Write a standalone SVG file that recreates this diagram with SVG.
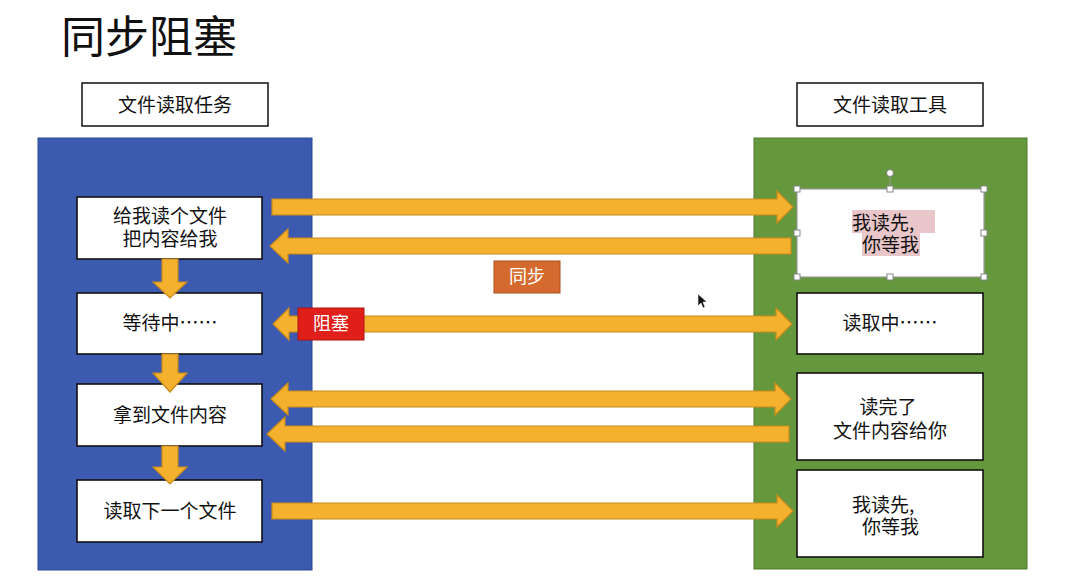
<svg xmlns="http://www.w3.org/2000/svg" width="1082" height="584" viewBox="0 0 1082 584">
<style>
text{font-family:"Noto Sans CJK SC","Liberation Sans",sans-serif;fill:#111;}
.t{font-size:19px;text-anchor:middle;}
.ts{font-size:19px;}
.node{fill:#fff;stroke:#111;stroke-width:1.6;}
.arr{fill:#f4b12e;stroke:#c88a1c;stroke-width:1.2;}
.lbl{font-size:18px;fill:#fff;text-anchor:middle;}
.hd{fill:#fff;stroke:#888;stroke-width:1;}
</style>
<rect width="1082" height="584" fill="#fff"/>
<text id="title" x="61" y="53" font-size="44">同步阻塞</text>
<g id="hdr-left"><rect x="82" y="83" width="186" height="43" fill="#fff" stroke="#111" stroke-width="1.5"/><text class="t" x="175" y="112">文件读取任务</text></g>
<g id="hdr-right"><rect x="797" y="83" width="186" height="43" fill="#fff" stroke="#111" stroke-width="1.5"/><text class="t" x="890" y="112">文件读取工具</text></g>
<g id="panel-left"><rect x="38" y="138" width="274" height="432" fill="#3c5ab0" stroke="#2d4890" stroke-width="1"/></g>
<g id="panel-right"><rect x="754" y="138" width="273" height="431" fill="#65983c" stroke="#4c7a2c" stroke-width="1"/></g>
<g id="l1"><rect class="node" x="77" y="197" width="185" height="62"/><text class="t" x="170" y="223">给我读个文件</text><text class="t" x="170" y="246">把内容给我</text></g>
<g id="l2"><rect class="node" x="77" y="293" width="185" height="61"/><text class="t" x="170" y="330">等待中……</text></g>
<g id="l3"><rect class="node" x="77" y="384" width="185" height="62"/><text class="t" x="170" y="422">拿到文件内容</text></g>
<g id="l4"><rect class="node" x="77" y="480" width="185" height="62"/><text class="t" x="170" y="518">读取下一个文件</text></g>
<g id="r1"><rect x="797" y="189" width="187" height="88" fill="#fff" stroke="#999" stroke-width="1.2"/>
<rect x="852" y="210" width="83" height="23" fill="#e9c6c9"/><rect x="862" y="233" width="58" height="23" fill="#e9c6c9"/>
<text class="ts" x="852" y="230">我读先,</text><text class="ts" x="862" y="252">你等我</text>
<line x1="890" y1="177" x2="890" y2="189" stroke="#999" stroke-width="1"/>
<circle cx="890" cy="173" r="3.5" fill="#fff" stroke="#777" stroke-width="1"/>
<rect class="hd" x="794" y="186" width="6" height="6"/><rect class="hd" x="887" y="186" width="6" height="6"/><rect class="hd" x="981" y="186" width="6" height="6"/>
<rect class="hd" x="794" y="230" width="6" height="6"/><rect class="hd" x="981" y="230" width="6" height="6"/>
<rect class="hd" x="794" y="274" width="6" height="6"/><rect class="hd" x="887" y="274" width="6" height="6"/><rect class="hd" x="981" y="274" width="6" height="6"/></g>
<g id="r2"><rect class="node" x="797" y="293" width="186" height="61"/><text class="t" x="890" y="330">读取中……</text></g>
<g id="r3"><rect class="node" x="797" y="373" width="186" height="87"/><text class="t" x="888" y="414">读完了</text><text class="t" x="890" y="438">文件内容给你</text></g>
<g id="r4"><rect class="node" x="797" y="470" width="186" height="87"/><text class="ts" x="852" y="512">我读先,</text><text class="ts" x="862" y="534">你等我</text></g>
<g id="connectors">
<polygon class="arr" points="162,259 178,259 178,282 187,282 170,298 153,282 162,282"/>
<polygon class="arr" points="162,354 178,354 178,373 187,373 170,392 153,373 162,373"/>
<polygon class="arr" points="162,446 178,446 178,467 187,467 170,484 153,467 162,467"/>
<polygon class="arr" points="272,199 777,199 777,191 793,207 777,223 777,215 272,215"/>
<polygon class="arr" points="791,238 288,238 288,229 270,246 288,263 288,254 791,254"/>
<polygon class="arr" points="273,324 289,308 289,316 776,316 776,308 792,324 776,340 776,332 289,332 289,340"/>
<polygon class="arr" points="271,399 288,383 288,391 775,391 775,383 791,399 775,415 775,407 288,407 288,415"/>
<polygon class="arr" points="789,426 285,426 285,417 267,434 285,451 285,442 789,442"/>
<polygon class="arr" points="272,503 777,503 777,495 793,511 777,527 777,519 272,519"/>
</g>
<g id="lbl-sync"><rect x="494" y="261" width="66" height="32" fill="#d56a2e" stroke="#a84e1e" stroke-width="1"/><text class="lbl" x="527" y="283">同步</text></g>
<g id="lbl-block"><rect x="298" y="308" width="66" height="32" fill="#e01e1a" stroke="#b01512" stroke-width="1"/><text class="lbl" x="331" y="330">阻塞</text></g>
<polygon points="698,294 698,306 701,303 703,308 705,307 703,302 707,302" fill="#111" stroke="#fff" stroke-width="0.6"/>
</svg>
